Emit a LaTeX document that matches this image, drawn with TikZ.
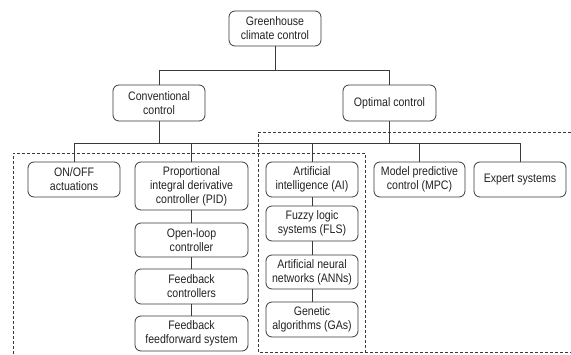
\documentclass[tikz,border=0pt]{standalone}
\usepackage{fontspec}
\setmainfont{Liberation Sans}[FakeStretch=0.86]
\usepackage{tikz}

\definecolor{linegray}{HTML}{3A3A3A}
\definecolor{textgray}{HTML}{222222}

\begin{document}
\begin{tikzpicture}
  [x=1pt,y=-1pt,line width=0.8pt,draw=linegray,
   every node/.style={draw=linegray,rounded corners=6pt,align=center,inner sep=0pt,
     minimum width=92pt,minimum height=35pt,text=textgray,
     font=\fontsize{12.3}{14}\selectfont},
   dashbox/.style={dash pattern=on 3pt off 2pt,line width=0.7pt}]
  \useasboundingbox (0,0) rectangle (571,354);

  \node (ng) at (275,28.5) {Greenhouse\\climate control};
  \node (nc) at (159,103) [minimum height=36pt] {Conventional\\control};
  \node (no) at (389.5,103) [minimum width=93pt,minimum height=36pt] {Optimal control};

  \node (nof) at (74,179.5) {ON/OFF\\actuations};
  \node (npid) at (191.5,186) [minimum width=113pt,minimum height=48pt] {Proportional\\integral derivative\\controller (PID)};
  \node (nol) at (191.5,240) [minimum width=113pt,minimum height=34pt] {Open-loop\\controller};
  \node (nfb) at (191.5,286.5) [minimum width=113pt] {Feedback\\controllers};
  \node (nff) at (191.5,333.5) [minimum width=113pt] {Feedback\\feedforward system};

  \node (nai) at (312,179.5) {Artificial\\intelligence (AI)};
  \node (nfls) at (312,223.5) {Fuzzy logic\\systems (FLS)};
  \node (nann) at (312,272) [minimum height=34pt] {Artificial neural\\networks (ANNs)};
  \node (nga) at (312,319.5) {Genetic\\algorithms (GAs)};

  \node (nmpc) at (419.5,179.5) [minimum width=91pt] {Model predictive\\control (MPC)};
  \node (nes) at (520,179.5) {Expert systems};

  \coordinate (b1) at (275,70);
  \coordinate (b2) at (159,143);
  \coordinate (b3) at (389.5,143);

  \draw (ng) -- (b1) -| (nc);
  \draw (b1) -| (no);
  \draw (nc) -- (b2) -| (nof);
  \draw (b2) -| (npid);
  \draw (b2) -- (b3);
  \draw (no) -- (b3) -| (nai);
  \draw (b3) -| (nmpc);
  \draw (b3) -| (nes);

  \path (npid) edge (nol);
  \path (nol) edge (nfb);
  \path (nfb) edge (nff);
  \path (nai) edge (nfls);
  \path (nfls) edge (nann);
  \path (nann) edge (nga);

  % dashed groups
  \draw[dashbox] (13,354) -- (13,153) -- (365,153) -- (365,354);
  \draw[dashbox] (571,132) -- (258,132) -- (258,352) -- (571,352);
\end{tikzpicture}
\end{document}
